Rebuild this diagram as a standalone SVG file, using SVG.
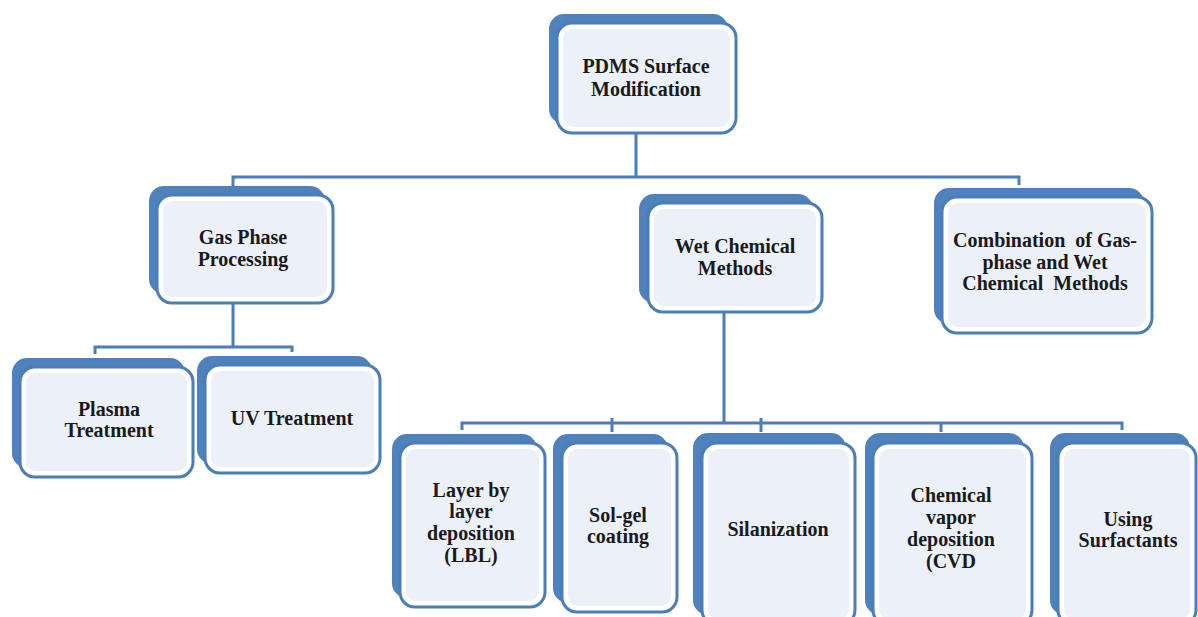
<svg xmlns="http://www.w3.org/2000/svg" width="1198" height="617" viewBox="0 0 1198 617">
<defs>
<style>
.back{fill:#4f81bd;}
.front{fill:#ffffff;stroke:#4a7dba;stroke-width:3;}
.inner{fill:#ecf0f8;}
.lbl{font-family:"Liberation Serif","Times New Roman",serif;font-weight:bold;font-size:20px;fill:#1a1a1a;text-anchor:middle;white-space:pre;}
.conn{fill:none;stroke:#4a7dba;stroke-width:3;}
</style>
</defs>
<rect width="1198" height="617" fill="#ffffff"/>
<g id="connectors">
<path class="conn" d="M636,133 V177 M233,186 V177 H1019 V185"/>
<path class="conn" d="M233,303 V347 M95,354 V347 H292 V352"/>
<path class="conn" d="M724,312 V423 M462,430 V423 H1122 V430 M612,418 V432 M761,418 V432 M941,423 V432"/>
</g>
<g id="n-pdms">
<rect class="back" x="549" y="14" width="179" height="110" rx="15"/>
<rect class="front" x="557" y="23" width="179" height="110" rx="15"/>
<rect class="inner" x="563" y="29" width="167" height="98" rx="10"/>
<text class="lbl" x="646" y="73">PDMS Surface</text>
<text class="lbl" x="646" y="96">Modification</text>
</g>
<g id="n-gas">
<rect class="back" x="149" y="186" width="176" height="108" rx="15"/>
<rect class="front" x="157" y="195" width="176" height="108" rx="15"/>
<rect class="inner" x="163" y="201" width="164" height="96" rx="10"/>
<text class="lbl" x="243" y="244">Gas Phase</text>
<text class="lbl" x="243" y="266">Processing</text>
</g>
<g id="n-wet">
<rect class="back" x="639" y="194" width="174" height="109" rx="15"/>
<rect class="front" x="648" y="203" width="174" height="109" rx="15"/>
<rect class="inner" x="654" y="209" width="162" height="97" rx="10"/>
<text class="lbl" x="735" y="253">Wet Chemical</text>
<text class="lbl" x="735" y="275">Methods</text>
</g>
<g id="n-comb">
<rect class="back" x="934" y="188" width="210" height="136" rx="15"/>
<rect class="front" x="942" y="197" width="210" height="136" rx="15"/>
<rect class="inner" x="948" y="203" width="198" height="124" rx="10"/>
<text class="lbl" x="1045" y="247">Combination  of Gas-</text>
<text class="lbl" x="1045" y="269">phase and Wet</text>
<text class="lbl" x="1045" y="290">Chemical  Methods</text>
</g>
<g id="n-plasma">
<rect class="back" x="12" y="358" width="173" height="110" rx="15"/>
<rect class="front" x="20" y="367" width="173" height="110" rx="15"/>
<rect class="inner" x="26" y="373" width="161" height="98" rx="10"/>
<text class="lbl" x="109" y="416">Plasma</text>
<text class="lbl" x="109" y="437">Treatment</text>
</g>
<g id="n-uv">
<rect class="back" x="197" y="356" width="175" height="108" rx="15"/>
<rect class="front" x="205" y="365" width="175" height="108" rx="15"/>
<rect class="inner" x="211" y="371" width="163" height="96" rx="10"/>
<text class="lbl" x="292" y="425">UV Treatment</text>
</g>
<g id="n-lbl">
<rect class="back" x="392" y="434" width="145" height="164" rx="15"/>
<rect class="front" x="400" y="443" width="145" height="164" rx="15"/>
<rect class="inner" x="406" y="449" width="133" height="152" rx="10"/>
<text class="lbl" x="471" y="497">Layer by</text>
<text class="lbl" x="471" y="518">layer</text>
<text class="lbl" x="471" y="540">deposition</text>
<text class="lbl" x="471" y="562">(LBL)</text>
</g>
<g id="n-solgel">
<rect class="back" x="553" y="434" width="115" height="169" rx="15"/>
<rect class="front" x="562" y="443" width="115" height="169" rx="15"/>
<rect class="inner" x="568" y="449" width="103" height="157" rx="10"/>
<text class="lbl" x="618" y="522">Sol-gel</text>
<text class="lbl" x="618" y="543">coating</text>
</g>
<g id="n-silan">
<rect class="back" x="693" y="433" width="153" height="182" rx="15"/>
<rect class="front" x="702" y="443" width="153" height="182" rx="15"/>
<rect class="inner" x="708" y="449" width="141" height="170" rx="10"/>
<text class="lbl" x="778" y="536">Silanization</text>
</g>
<g id="n-cvd">
<rect class="back" x="865" y="433" width="159" height="182" rx="15"/>
<rect class="front" x="873" y="443" width="159" height="182" rx="15"/>
<rect class="inner" x="879" y="449" width="147" height="170" rx="10"/>
<text class="lbl" x="951" y="502">Chemical</text>
<text class="lbl" x="951" y="524">vapor</text>
<text class="lbl" x="951" y="546">deposition</text>
<text class="lbl" x="951" y="568">(CVD</text>
</g>
<g id="n-surf">
<rect class="back" x="1050" y="433" width="140" height="182" rx="15"/>
<rect class="front" x="1058" y="443" width="138" height="182" rx="15"/>
<rect class="inner" x="1064" y="449" width="126" height="170" rx="10"/>
<text class="lbl" x="1128" y="526">Using</text>
<text class="lbl" x="1128" y="547">Surfactants</text>
</g>
</svg>
